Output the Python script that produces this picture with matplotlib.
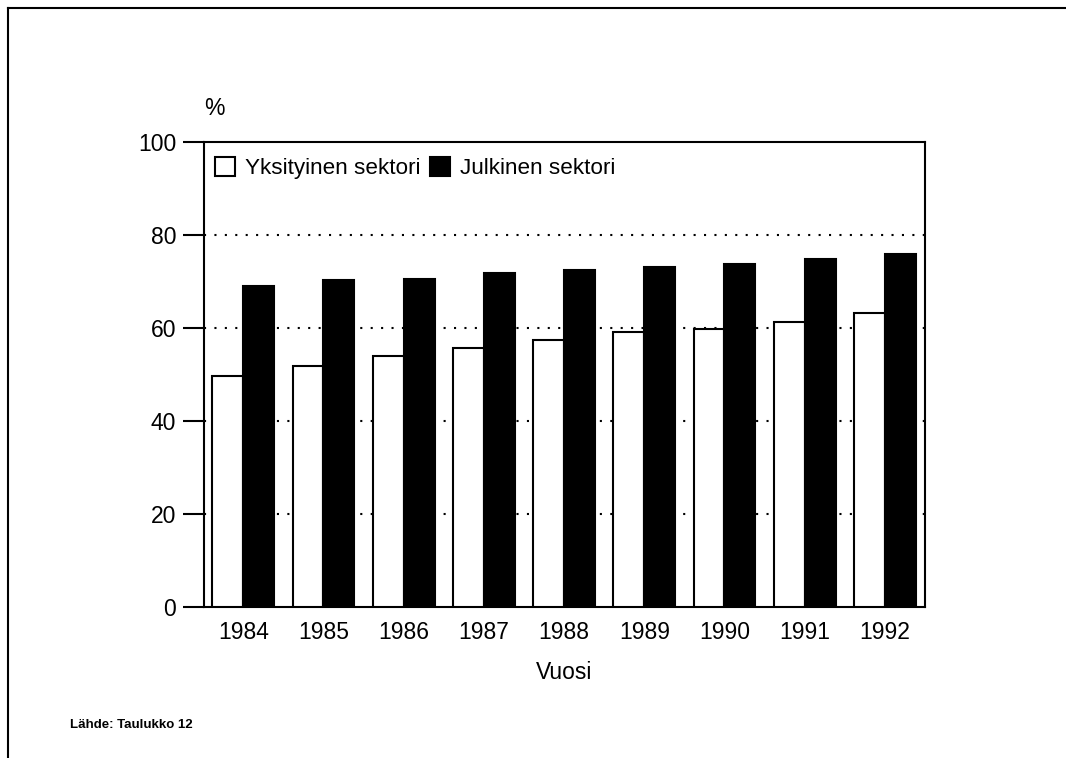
import numpy as np
import matplotlib.pyplot as plt
from matplotlib.lines import Line2D

plt.rcParams['font.family'] = ['Liberation Sans', 'DejaVu Sans']

vuodet = ['1984', '1985', '1986', '1987', '1988', '1989', '1990', '1991', '1992']
yksityinen = [49.7, 51.8, 54.0, 55.6, 57.5, 59.2, 59.8, 61.3, 63.3]
julkinen = [69.0, 70.3, 70.6, 71.9, 72.4, 73.1, 73.7, 74.8, 76.0]

fig = plt.figure(figsize=(10.66, 7.58), dpi=100)
ax = fig.add_axes([204 / 1066, 1 - 607 / 758, 721 / 1066, 465 / 758])

x = np.arange(len(vuodet))
w = 0.385
ax.bar(x - w / 2, yksityinen, w, color='white', edgecolor='black', linewidth=1.5,
       label='Yksityinen sektori', zorder=3)
ax.bar(x + w / 2, julkinen, w, color='black', edgecolor='black', linewidth=1.5,
       label='Julkinen sektori', zorder=3)

ax.set_xlim(-0.49, 8.5)
ax.set_ylim(0, 100)
ax.set_yticks([0, 20, 40, 60, 80, 100])
ax.set_xticks(x)
ax.set_xticklabels(vuodet)
ax.tick_params(axis='y', direction='out', length=15, width=1.5, labelsize=16.5, pad=5)
ax.tick_params(axis='x', length=0, labelsize=16.5, pad=10)
for s in ax.spines.values():
    s.set_linewidth(1.5)

for yv in [20, 40, 60, 80]:
    ax.axhline(yv, color='black', linestyle=(0, (1, 4)), linewidth=1.5, zorder=1)

ax.set_xlabel('Vuosi', fontsize=16.5, labelpad=12)
ax.text(0.0, 1.073, '%', fontsize=16.5, ha='left', va='center', transform=ax.transAxes)

ax.legend(loc='upper left', bbox_to_anchor=(11 / 721, 1 - 15 / 465), ncol=2,
          frameon=False, fontsize=16.2, handlelength=0.9, handleheight=0.9,
          handletextpad=0.45, columnspacing=0.4, borderaxespad=0, borderpad=0)

fig.text(0.066, 0.04, 'Lähde: Taulukko 12', fontsize=9.5, fontweight='bold')

# sivun reunaviivat
fig.add_artist(Line2D([8 / 1066, 1], [1 - 8 / 758] * 2, color='black', linewidth=1.5))
fig.add_artist(Line2D([8 / 1066] * 2, [0, 1 - 8 / 758], color='black', linewidth=1.5))

fig.savefig('out.png', dpi=100)
